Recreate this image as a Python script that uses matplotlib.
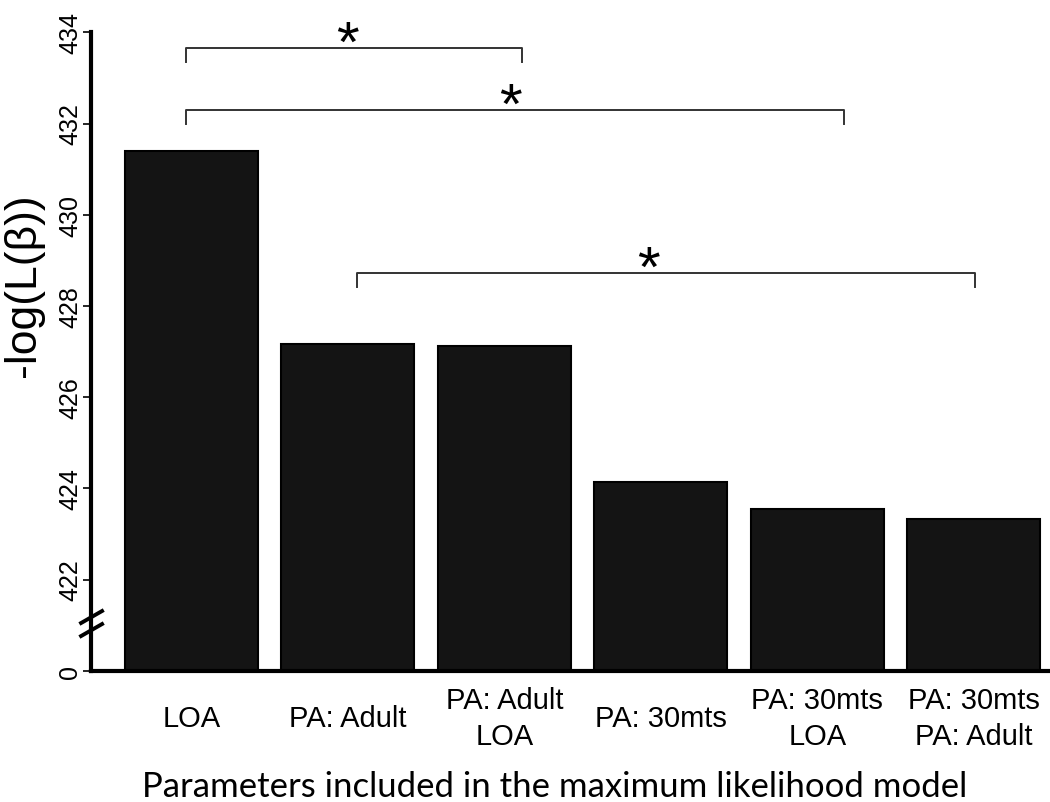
import matplotlib
matplotlib.use("Agg")
import matplotlib.pyplot as plt
from matplotlib.lines import Line2D

categories = ["LOA", "PA: Adult", "PA: Adult\nLOA", "PA: 30mts",
              "PA: 30mts\nLOA", "PA: 30mts\nPA: Adult"]
values = [431.40, 427.16, 427.13, 424.14, 423.54, 423.33]
y_ticks = [420, 422, 424, 426, 428, 430, 432, 434]
y_ticklabels = ["0", "422", "424", "426", "428", "430", "432", "434"]
# significance brackets: (x_start, x_end, y_bar, star_x)
brackets = [(-0.035, 2.115, 433.65, 0.997),
            (-0.035, 4.17, 432.29, 2.04),
            (1.06, 5.01, 428.72, 2.92)]
baseline = 420

fig = plt.figure(figsize=(10.5, 8.03), dpi=100)
ax = fig.add_axes([0.0867, 0.1635, 0.9123, 0.795])

x = list(range(len(categories)))
ax.bar(x, [v - baseline for v in values], bottom=baseline, width=0.85,
       color="#141414", edgecolor="black", linewidth=1.5, zorder=2)

ax.set_xlim(-0.642, 5.48)
ax.set_ylim(420, 434)

for s in ["top", "right"]:
    ax.spines[s].set_visible(False)
ax.spines["left"].set_linewidth(3)
ax.spines["bottom"].set_linewidth(3)
ax.spines["left"].set_capstyle("projecting")

ax.set_yticks(y_ticks)
ax.set_yticklabels(y_ticklabels, rotation=90, va="center",
                   fontsize=18, family="Liberation Sans")
ax.tick_params(axis="y", length=6, width=1.2, pad=0.5)

ax.set_xticks(x)
ax.set_xticklabels(categories, fontsize=21, family="Liberation Sans",
                   linespacing=1.36)
for lab in ax.get_xticklabels():
    lab.set_va("center")
ax.tick_params(axis="x", length=0, pad=34)

ax.set_xlabel("Parameters included in the maximum likelihood model",
              fontsize=25, family="Lato")
ax.xaxis.set_label_coords(0.484, -0.155)

ax.set_ylabel("-log(L(β))", fontsize=32, family="Liberation Sans",
              va="center")
ax.yaxis.set_label_coords(-0.07, 0.606)

tick_h = 0.30
for x0, x1, yb, sx in brackets:
    ax.plot([x0, x0, x1, x1], [yb - tick_h, yb, yb, yb - tick_h],
            color="#333333", linewidth=1.4, clip_on=False, zorder=3)
    ax.text(sx, yb + 0.06, "*", ha="center", va="center", fontsize=42,
            family="Liberation Sans", clip_on=False)

# axis break marks "//"
for dy in [0.0, 0.0204]:
    ax.add_line(Line2D([-0.0104, 0.0115], [0.0747 - dy, 0.0935 - dy],
                       transform=ax.transAxes, color="black", linewidth=2.8,
                       clip_on=False))

fig.savefig("out.png", dpi=100)
